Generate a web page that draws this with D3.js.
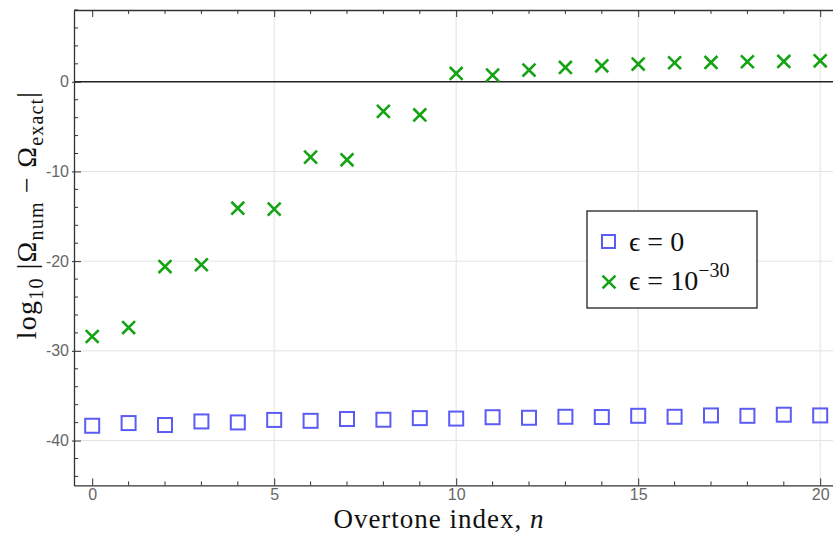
<!DOCTYPE html>
<html lang="en">
<head>
<meta charset="utf-8">
<script src="https://d3js.org/d3.v7.min.js"></script>
<title>Overtone error</title>
<style>
  body { margin: 0; background: #fff; }
  .serif { font-family: "Liberation Serif", "DejaVu Serif", serif; fill: #111; }
</style>
</head>
<body>
<div id="chart"></div>
<script>
// overtone index n
var overtones = d3.range(0, 21);
// log10 |Omega_num - Omega_exact| for eps = 0
var errEps0 = [-38.35, -38.05, -38.27, -37.87, -37.98, -37.7, -37.8, -37.6, -37.68, -37.5, -37.55,
               -37.4, -37.46, -37.35, -37.38, -37.24, -37.35, -37.2, -37.24, -37.12, -37.2];
// same for eps = 1e-30
var errEps30 = [-28.4, -27.4, -20.6, -20.4, -14.1, -14.2, -8.4, -8.7, -3.3, -3.7, 0.93,
                0.74, 1.3, 1.6, 1.78, 1.97, 2.12, 2.15, 2.23, 2.27, 2.34];
var xMajor = [0, 5, 10, 15, 20];
var yMajor = [0, -10, -20, -30, -40];

var width = 833, height = 534;
var plotLeft = 74, plotTop = 10, plotBottom = 485.4;

var svg = d3.select("#chart").append("svg")
    .attr("width", width)
    .attr("height", height);

var x = d3.scaleLinear().domain([-0.5, 20.5]).range([plotLeft, plotLeft + 21 * 36.4]);
var y = d3.scaleLinear().domain([8, -45]).range([plotTop, plotBottom]);

// grid lines
svg.append("g").selectAll("line")
    .data(xMajor.filter(function(d) { return d > 0; }))
    .enter().append("line")
    .attr("x1", d => x(d)).attr("x2", d => x(d))
    .attr("y1", plotTop).attr("y2", plotBottom)
    .attr("stroke", "#e3e3e3").attr("stroke-width", 1);

svg.append("g").selectAll("line")
    .data(yMajor.filter(function(d) { return d < 0; }))
    .enter().append("line")
    .attr("x1", plotLeft).attr("x2", width)
    .attr("y1", d => y(d)).attr("y2", d => y(d))
    .attr("stroke", "#e3e3e3").attr("stroke-width", 1);

// zero line
svg.append("line")
    .attr("x1", plotLeft).attr("x2", width)
    .attr("y1", y(0)).attr("y2", y(0))
    .attr("stroke", "#222").attr("stroke-width", 1.3);

// frame axes, ticks point inward
var yAxis = d3.axisLeft(y).tickValues(yMajor).tickSizeInner(-7).tickSizeOuter(0).tickPadding(5)
    .tickFormat(d => d < 0 ? "-" + (-d) : d);
var gy = svg.append("g").attr("transform", "translate(" + plotLeft + ",0)").call(yAxis);
var yMinor = d3.range(8, -46, -2).filter(d => yMajor.indexOf(d) < 0);
gy.selectAll(".minor").data(yMinor).enter().append("line")
    .attr("class", "minor")
    .attr("x1", 0).attr("x2", 4)
    .attr("y1", d => y(d)).attr("y2", d => y(d))
    .attr("stroke", "#333");

var xAxis = d3.axisBottom(x).tickValues(xMajor).tickSizeInner(-7).tickSizeOuter(0).tickPadding(3);
var gx = svg.append("g").attr("transform", "translate(0," + plotBottom + ")").call(xAxis);
gx.selectAll(".minor").data(overtones.filter(d => d % 5 != 0)).enter().append("line")
    .attr("class", "minor")
    .attr("x1", d => x(d)).attr("x2", d => x(d))
    .attr("y1", 0).attr("y2", -4)
    .attr("stroke", "#333");

var xTop = d3.axisTop(x).tickValues(xMajor).tickSizeInner(-7).tickSizeOuter(0).tickFormat("");
var gt = svg.append("g").attr("transform", "translate(0," + plotTop + ")").call(xTop);
gt.selectAll(".minor").data(overtones.filter(d => d % 5 != 0)).enter().append("line")
    .attr("class", "minor")
    .attr("x1", d => x(d)).attr("x2", d => x(d))
    .attr("y1", 0).attr("y2", 4)
    .attr("stroke", "#333");

[gx, gy, gt].forEach(function(g) {
    g.attr("font-size", null).attr("font-family", null);
    g.select(".domain").attr("stroke", "#333").attr("stroke-width", 1.3);
    g.selectAll(".tick line").attr("stroke", "#333");
    g.selectAll(".tick text")
        .attr("font-family", "'Liberation Sans', Arial, sans-serif")
        .attr("font-size", 16)
        .attr("fill", "#666");
});
// make major y ticks poke out a bit
gy.selectAll(".tick line").attr("x1", -2);

// markers
var blue = "#5b5bf5", green = "#13a313";

svg.append("g").selectAll("rect")
    .data(overtones)
    .enter().append("rect")
    .attr("x", d => x(d) - 7)
    .attr("y", (d, i) => y(errEps0[i]) - 7)
    .attr("width", 14).attr("height", 14)
    .attr("fill", "none")
    .attr("stroke", blue)
    .attr("stroke-width", 2);

var cross = d3.symbol().type(d3.symbolTimes).size(110);
svg.append("g").selectAll("path")
    .data(overtones)
    .enter().append("path")
    .attr("transform", (d, i) => "translate(" + x(d) + "," + y(errEps30[i]) + ")")
    .attr("d", cross)
    .attr("fill", "none")
    .attr("stroke", green)
    .attr("stroke-width", 2.6);

// legend
var lg = svg.append("g").attr("transform", "translate(587,211)");
lg.append("rect")
    .attr("width", 170).attr("height", 97)
    .attr("fill", "#fff").attr("stroke", "#222").attr("stroke-width", 1.3);
lg.append("rect")
    .attr("x", 15).attr("y", 24).attr("width", 13).attr("height", 13)
    .attr("fill", "none").attr("stroke", blue).attr("stroke-width", 2);
lg.append("path")
    .attr("transform", "translate(22,71)")
    .attr("d", cross)
    .attr("fill", "none")
    .attr("stroke", green)
    .attr("stroke-width", 2.6);
lg.append("text").attr("class", "serif")
    .attr("x", 42).attr("y", 40).attr("font-size", 28)
    .text("\u03f5 = 0");
var t2 = lg.append("text").attr("class", "serif")
    .attr("x", 42).attr("y", 79).attr("font-size", 28);
t2.append("tspan").text("\u03f5 = 10");
t2.append("tspan").attr("dy", -13).attr("font-size", 20).text("\u221230");

// axis titles
svg.append("text").attr("class", "serif")
    .attr("x", 439).attr("y", 528)
    .attr("text-anchor", "middle")
    .attr("font-size", 27)
    .attr("letter-spacing", 1)
    .html("Overtone index, <tspan font-style='italic'>n</tspan>");

var yl = svg.append("text").attr("class", "serif")
    .attr("transform", "translate(36,215) rotate(-90)")
    .attr("text-anchor", "middle")
    .attr("font-size", 28)
    .attr("letter-spacing", 1.2);
yl.append("tspan").text("log");
yl.append("tspan").attr("dy", 7).attr("font-size", 20).text("10");
yl.append("tspan").attr("dy", -7).text(" |\u03a9");
yl.append("tspan").attr("dy", 7).attr("font-size", 20).text("num");
yl.append("tspan").attr("dy", -7).text(" \u2212 \u03a9");
yl.append("tspan").attr("dy", 7).attr("font-size", 20).text("exact");
yl.append("tspan").attr("dy", -7).text("|");
</script>
</body>
</html>
